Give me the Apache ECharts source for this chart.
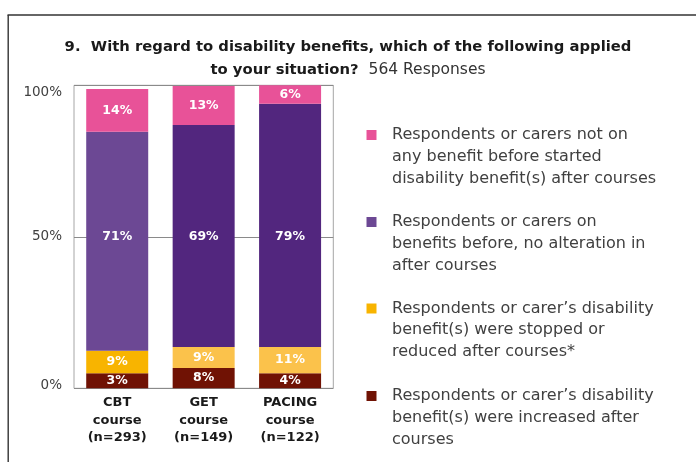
<!DOCTYPE html>
<html>
<head>
<meta charset="utf-8">
<script src="https://cdn.jsdelivr.net/npm/echarts@6/dist/echarts.min.js"></script>
<style>
html,body{margin:0;padding:0;background:#fff;}
#chart{width:696px;height:462px;}
</style>
</head>
<body>
<div id="chart"></div>
<script>
// ---- data ----
const categories = ['CBT\ncourse\n(n=293)', 'GET\ncourse\n(n=149)', 'PACING\ncourse\n(n=122)'];
const seriesNames = [
  'Respondents or carer\u2019s disability\nbenefit(s) were increased after\ncourses',
  'Respondents or carer\u2019s disability\nbenefit(s) were stopped or\nreduced after courses*',
  'Respondents or carers on\nbenefits before, no alteration in\nafter courses',
  'Respondents or carers not on\nany benefit before started\ndisability benefit(s) after courses'
];
// bar segment heights (percent), bottom to top
const increased = [5.0, 6.7, 5.0];
const reduced   = [7.4, 6.9, 8.6];
const noChange  = [72.3, 73.3, 80.3];
const started   = [14.1, 12.9, 6.1];
// printed segment labels
const increasedLabels = ['3%', '8%', '4%'];
const reducedLabels   = ['9%', '9%', '11%'];
const noChangeLabels  = ['71%', '69%', '79%'];
const startedLabels   = ['14%', '13%', '6%'];
const yTicks = [0, 50, 100];

// ---- styles ----
const segColors = [
  ['#701204', '#701204', '#701204'],
  ['#F8B400', '#FBC24B', '#FBC24B'],
  ['#6C4894', '#52267E', '#52267E'],
  ['#E85298', '#E85298', '#E85298']
];
const legendColors = ['#701204', '#F8B400', '#6C4894', '#E85298'];

const W = 696, H = 462;
const grid = { left: 74, right: W - 333.3, top: 85.3, bottom: H - 388.3 };
const plotH = H - grid.top - grid.bottom;
const pxPerUnit = plotH / 100;

const values = [increased, reduced, noChange, started];
const labels = [increasedLabels, reducedLabels, noChangeLabels, startedLabels];

const font = 'DejaVu Sans';

const series = values.map((vals, s) => ({
  name: seriesNames[s],
  type: 'bar',
  stack: 'total',
  barWidth: 62,
  data: vals.map((v, i) => {
    const item = { value: v };
    if (s === 2) {
      // labels of the middle segment sit on the 50% line
      let base = 0;
      for (let k = 0; k < s; k++) base += values[k][i];
      const c = base + v / 2;
      item.label = { offset: [0, (c - 50) * pxPerUnit] };
    }
    return item;
  }),
  itemStyle: { color: p => segColors[s][p.dataIndex] },
  label: {
    show: true,
    position: 'inside',
    color: '#fff',
    fontFamily: font,
    fontWeight: 'bold',
    fontSize: 12.5,
    formatter: p => labels[s][p.dataIndex]
  }
}));

// legend (top to bottom: reverse of stacking order)
const legendFirstLineY = [135, 222, 308.5, 396];
const legendLH = 21.7;
const graphics = [
  { type: 'line', shape: { x1: 7.5, y1: 15, x2: W, y2: 15 }, style: { stroke: '#333', lineWidth: 1.4 } },
  { type: 'line', shape: { x1: 8.2, y1: 15, x2: 8.2, y2: H }, style: { stroke: '#333', lineWidth: 1.4 } }
];
for (let j = 0; j < 4; j++) {
  const s = 3 - j;
  const y = legendFirstLineY[j];
  graphics.push({ type: 'rect', shape: { x: 366.5, y: y - 5, width: 10, height: 10 }, style: { fill: legendColors[s] } });
  graphics.push({ type: 'text', x: 392, y: y - legendLH / 2, style: {
    text: seriesNames[s], fill: '#404040', font: '16px "' + font + '"',
    lineHeight: legendLH, verticalAlign: 'top', align: 'left'
  }});
}

const yLabelBase = { fontFamily: font, fontSize: 13.5, color: '#404040' };
const yMin = yTicks[0], yMax = yTicks[yTicks.length - 1];

const option = {
  animation: false,
  title: {
    left: 'center',
    top: 35,
    padding: 0,
    text: '{b|9.  With regard to disability benefits, which of the following applied}\n{b|to your situation?}  {n|564 Responses}',
    textStyle: {
      rich: {
        b: { fontFamily: font, fontWeight: 'bold', fontSize: 14.8, color: '#1a1a1a', lineHeight: 23.5 },
        n: { fontFamily: font, fontWeight: 'normal', fontSize: 15.5, color: '#333', lineHeight: 23.5 }
      }
    }
  },
  grid: Object.assign({ show: true, borderColor: '#a6a6a6', borderWidth: 1, containLabel: false }, grid),
  xAxis: {
    type: 'category',
    data: categories,
    axisLine: { show: false },
    axisTick: { show: false },
    axisLabel: {
      margin: 6,
      color: '#1a1a1a',
      fontFamily: font,
      fontWeight: 'bold',
      fontSize: 13,
      lineHeight: 17.5
    }
  },
  yAxis: {
    type: 'value',
    min: yMin,
    max: yMax,
    interval: yTicks[1] - yTicks[0],
    axisLine: { show: false },
    axisTick: { show: false },
    splitLine: { lineStyle: { color: '#8a8a8a', width: 1 } },
    axisLabel: {
      margin: 12,
      color: '#404040',
      fontFamily: font,
      fontSize: 13.5,
      formatter: v => {
        const key = v === yMax ? 't' : (v === yMin ? 'z' : 'm');
        return '{' + key + '|' + v + '%}';
      },
      rich: {
        t: Object.assign({ padding: [14, 0, 0, 0] }, yLabelBase),
        m: Object.assign({}, yLabelBase),
        z: Object.assign({ padding: [0, 0, 6, 0] }, yLabelBase)
      }
    }
  },
  graphic: graphics,
  series: series
};

const chart = echarts.init(document.getElementById('chart'), null, { renderer: 'canvas' });
chart.setOption(option);
</script>
</body>
</html>
